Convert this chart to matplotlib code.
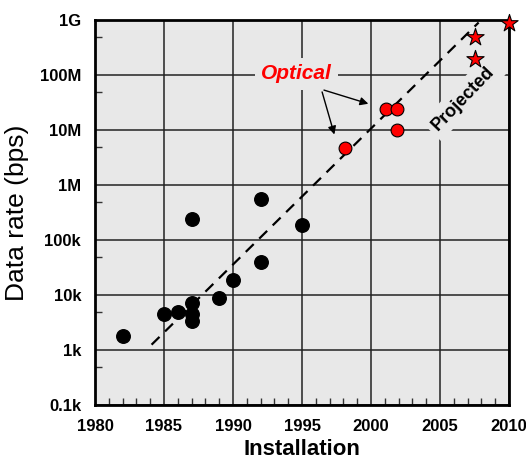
import matplotlib.pyplot as plt
from matplotlib.ticker import FixedLocator, NullFormatter

plt.rcParams['font.family'] = ['Liberation Sans', 'DejaVu Sans']

# data
black_year = [1982, 1985, 1986, 1987, 1987, 1987, 1987, 1989, 1990, 1992, 1992, 1995]
black_rate = [1.8e3, 4.6e3, 5.0e3, 7.3e3, 4.5e3, 3.3e3, 2.4e5, 9e3, 1.9e4, 5.5e5, 3.9e4, 1.9e5]

optical_year = [1998.1, 2001.1, 2001.9, 2001.9]
optical_rate = [4.7e6, 2.4e7, 2.4e7, 1.0e7]

proj_year = [2007.5, 2007.5, 2010]
proj_rate = [5e8, 1.95e8, 9e8]

trend_year = [1984.1, 2007.8]
trend_rate = [1.25e3, 9e8]

x_ticks = [1980, 1985, 1990, 1995, 2000, 2005, 2010]
y_ticks = [1e2, 1e3, 1e4, 1e5, 1e6, 1e7, 1e8, 1e9]
y_labels = ['0.1k', '1k', '10k', '100k', '1M', '10M', '100M', '1G']

fig = plt.figure(figsize=(5.26, 4.65), dpi=100)
ax = fig.add_axes([0.1806, 0.129, 0.7871, 0.828])
ax.set_facecolor('#e8e8e8')

ax.set_yscale('log')
ax.set_xlim(1980, 2010)
ax.set_ylim(1e2, 1e9)

ax.plot(trend_year, trend_rate, color='black', lw=1.6, ls=(0, (5, 3.5)), zorder=3)

ax.scatter(black_year, black_rate, s=95, color='black', zorder=4)
ax.scatter(optical_year, optical_rate, s=85, color='red', edgecolors='black',
           linewidths=0.8, zorder=4)
ax.scatter(proj_year, proj_rate, s=170, marker='*', color='red', edgecolors='black',
           linewidths=0.8, zorder=7, clip_on=False)

# grid + ticks
ax.set_xticks(x_ticks)
ax.set_yticks(y_ticks)
ax.set_yticklabels(y_labels)
ax.xaxis.set_minor_locator(FixedLocator(range(1980, 2011)))
ax.yaxis.set_minor_locator(FixedLocator([5 * 10 ** k for k in range(2, 9)]))
ax.yaxis.set_minor_formatter(NullFormatter())
ax.grid(True, which='major', color='#222222', lw=1.1, zorder=1)
ax.set_axisbelow(True)
ax.tick_params(which='major', length=0, pad=10, labelsize=12)
ax.tick_params(which='minor', direction='in', length=5, width=1, color='#333333')
ax.tick_params(axis='x', which='minor', top=False)
ax.tick_params(axis='y', which='minor', right=False)
for lab in ax.get_xticklabels() + ax.get_yticklabels():
    lab.set_fontweight('bold')
for sp in ax.spines.values():
    sp.set_linewidth(2)
    sp.set_zorder(6)

ax.set_xlabel('Installation', fontsize=16, fontweight='bold', labelpad=4)
ax.set_ylabel('Data rate (bps)', fontsize=19, labelpad=8)

# annotations
ax.text(1994.6, 1.05e8, 'Optical', color='red', fontsize=15, fontweight='bold',
        fontstyle='italic', ha='center', va='center', zorder=5,
        bbox=dict(boxstyle='square,pad=0.3', fc='#e8e8e8', ec='none'))
ax.annotate('', xy=(2000.0, 2.9e7), xytext=(1996.4, 5.5e7),
            arrowprops=dict(arrowstyle='-|>', color='black', lw=1, mutation_scale=12), zorder=5)
ax.annotate('', xy=(1997.4, 7.4e6), xytext=(1996.4, 5.5e7),
            arrowprops=dict(arrowstyle='-|>', color='black', lw=1, mutation_scale=12), zorder=5)

ax.text(2006.7, 3.8e7, 'Projected', fontsize=13, fontweight='bold', rotation=46,
        ha='center', va='center', zorder=5, rotation_mode='anchor',
        bbox=dict(boxstyle='square,pad=0.3', fc='#e8e8e8', ec='none'))

fig.savefig('out.png', dpi=100)
